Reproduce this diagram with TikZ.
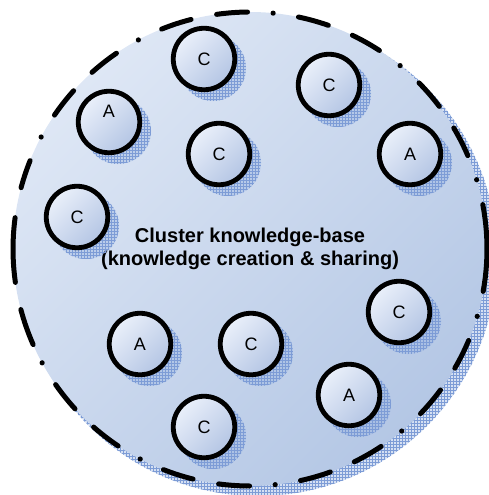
\documentclass[tikz,border=0pt]{standalone}
\usepackage{fontspec}
\setmainfont{Liberation Sans}
\usetikzlibrary{patterns}

\definecolor{kbtop}{RGB}{222,231,245}
\definecolor{kbbot}{RGB}{180,199,229}
\definecolor{nodetop}{RGB}{234,240,250}
\definecolor{nodebot}{RGB}{180,197,228}
\definecolor{shfill}{RGB}{150,178,224}
\definecolor{shline}{RGB}{125,156,214}

\tikzset{
  kbase/.style={circle, minimum size=474pt, inner sep=0pt,
    top color=kbtop, bottom color=kbbot, shading angle=45,
    align=center, font=\fontsize{20}{22.5}\selectfont\bfseries},
  agent/.style={circle, draw=black, line width=4.8pt, minimum size=61.5pt,
    inner sep=0pt, top color=nodetop, bottom color=nodebot, shading angle=45,
    font=\fontsize{18}{18}\selectfont},
  shadowdisc/.style={fill=shfill, fill opacity=0.4},
  shadowmesh/.style={pattern=grid, pattern color=shline},
  rim/.style={line width=5pt, line cap=round}
}

\begin{document}
\begin{tikzpicture}[x=1pt, y=-1pt]
\useasboundingbox (0,0) rectangle (488,495);

% centres of the knowledge base and of the actors
\coordinate (kbc) at (250,249);
\coordinate (pc1) at (204,59);
\coordinate (pc2) at (329,85);
\coordinate (pa1) at (109,122);
\coordinate (pc3) at (219,154);
\coordinate (pa2) at (410,154);
\coordinate (pc4) at (77,217);
\coordinate (pc5) at (399,312);
\coordinate (pa3) at (140,344);
\coordinate (pc6) at (251,344);
\coordinate (pa4) at (349,395);
\coordinate (pc7) at (204,427);

% shadow of the knowledge base
\fill[shadowdisc] ([shift={(8pt,-8pt)}]kbc) circle[radius=239pt];
\fill[shadowmesh] ([shift={(8pt,-8pt)}]kbc) circle[radius=239pt];

% knowledge base with its caption
\node[kbase] (kb) at (kbc) {Cluster knowledge-base\\(knowledge creation \& sharing)};

% long dash - long dash - dot border
\foreach \t in {16.5,50.2,83.9,117.6,208.2,241.9,275.6,309.3}{
  \pgfmathsetmacro\sa{\t+6.2}\pgfmathsetmacro\ea{\t+13.7}
  \pgfmathsetmacro\sb{\t+20.0}\pgfmathsetmacro\eb{\t+27.5}
  \draw[rim] plot[domain=\sa:\ea, samples=9] ({250+237*cos(\x)},{249+237*sin(\x)});
  \draw[rim] plot[domain=\sb:\eb, samples=9] ({250+237*cos(\x)},{249+237*sin(\x)});
}
\foreach \t in {16.5,50.2,83.9,117.6,151.3,208.2,241.9,275.6,309.3,343.0}
  \fill ({250+237*cos(\t)},{249+237*sin(\t)}) circle[radius=2.6pt];
\draw[rim] plot[domain=349.2:370.3, samples=14] ({250+237*cos(\x)},{249+237*sin(\x)});
\draw[rim] plot[domain=156.2:165.2, samples=9] ({250+237*cos(\x)},{249+237*sin(\x)});
\draw[rim] plot[domain=171.9:187.6, samples=12] ({250+237*cos(\x)},{249+237*sin(\x)});
\draw[rim] plot[domain=195.0:201.9, samples=9] ({250+237*cos(\x)},{249+237*sin(\x)});

% actor shadows
\foreach \p in {pc1,pc2,pa1,pc3,pa2,pc4,pc5,pa3,pc6,pa4,pc7}{
  \fill[shadowdisc] ([shift={(9pt,-9pt)}]\p) circle[radius=33pt];
  \fill[shadowmesh] ([shift={(9pt,-9pt)}]\p) circle[radius=33pt];
}

% actors
\node[agent] (c1) at (pc1) {C};
\node[agent] (c2) at (pc2) {C};
\node[agent, label={[yshift=11pt, font=\fontsize{18}{18}\selectfont]center:A}] (a1) at (pa1) {};
\node[agent] (c3) at (pc3) {C};
\node[agent] (a2) at (pa2) {A};
\node[agent] (c4) at (pc4) {C};
\node[agent] (c5) at (pc5) {C};
\node[agent] (a3) at (pa3) {A};
\node[agent] (c6) at (pc6) {C};
\node[agent] (a4) at (pa4) {A};
\node[agent] (c7) at (pc7) {C};
\end{tikzpicture}
\end{document}
